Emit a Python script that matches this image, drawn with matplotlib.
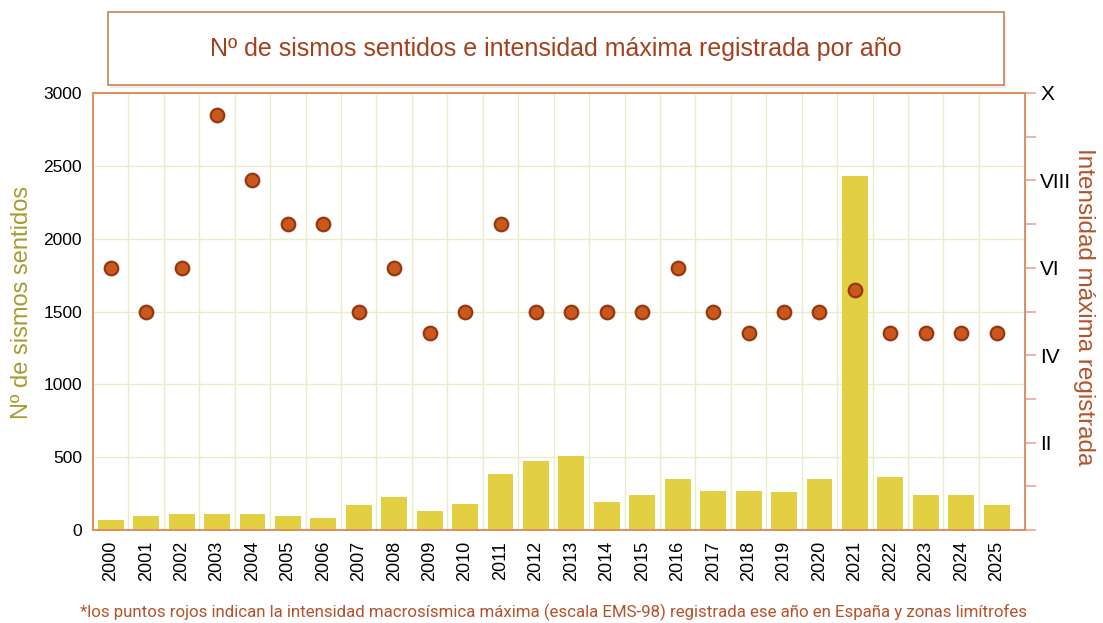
import matplotlib.pyplot as plt
from matplotlib.patches import Rectangle

# data
years = [str(y) for y in range(2000, 2026)]
sismos = [70, 98, 112, 112, 112, 98, 84, 170, 228, 130, 179, 382, 474, 509,
          193, 240, 349, 270, 270, 258, 349, 2430, 363, 242, 242, 172]
intensidad = [6, 5, 6, 9.5, 8, 7, 7, 5, 6, 4.5, 5, 7, 5, 5, 5, 5, 6, 5, 4.5,
              5, 5, 5.5, 4.5, 4.5, 4.5, 4.5]
roman = ['', '', 'II', '', 'IV', '', 'VI', '', 'VIII', '', 'X']

W, H = 1103, 623
fig = plt.figure(figsize=(W / 100, H / 100), dpi=100)
fig.patch.set_facecolor('white')

spine_c = '#de8f62'
grid_c = '#e8ecc9'

ax = fig.add_axes([93 / W, 1 - 530 / H, (1025 - 93) / W, (530 - 93) / H])
x = list(range(len(years)))
ax.bar(x, sismos, width=0.73, color='#e2d042', zorder=2)
ax.set_xlim(-0.5, 25.8)
ax.set_ylim(0, 3000)
ax.set_yticks(range(0, 3001, 500))
ax.set_xticks(x)
ax.set_xticklabels(years, rotation=90, fontsize=13, family='Liberation Sans')
ax.set_xticks([i + 0.5 for i in x[:-1]], minor=True)
ax.tick_params(axis='x', which='both', length=0, pad=8)
ax.tick_params(axis='y', length=0, labelsize=12.5, pad=8)
for lab in ax.get_yticklabels():
    lab.set_family('Liberation Sans')
ax.grid(True, axis='y', color=grid_c, lw=1, zorder=0)
ax.grid(True, axis='x', which='minor', color=grid_c, lw=1, zorder=0)
for s in ax.spines.values():
    s.set_color(spine_c)
    s.set_linewidth(1.3)
ax.set_ylabel('Nº de sismos sentidos', color='#a89b2e', fontsize=17,
              family='Liberation Sans', va='center')
ax.yaxis.set_label_coords((22 - 93) / 932, 0.52)

ax2 = ax.twinx()
ax2.scatter(x, intensidad, s=95, color='#c9581d', edgecolor='#96370f',
            linewidth=1.6, zorder=3)
ax2.set_ylim(0, 10)
ax2.set_yticks(range(0, 11))
ax2.set_yticklabels(roman, fontsize=15, family='Liberation Sans')
ax2.tick_params(axis='y', color='#eca3a3', length=8, width=1.2, pad=3)
for s in ax2.spines.values():
    s.set_color(spine_c)
    s.set_linewidth(1.3)
ax2.set_ylabel('Intensidad máxima registrada', color='#b4522b', fontsize=17.5,
               family='Liberation Sans', rotation=270, va='center')
ax2.yaxis.set_label_coords((1084 - 93) / 932, 0.51)

# title box with a soft shadow
fig.patches.append(Rectangle((110 / W, 1 - 88 / H), 896 / W, 73 / H,
                             transform=fig.transFigure, facecolor='#ececec',
                             edgecolor='none', zorder=0))
fig.patches.append(Rectangle((108 / W, 1 - 85 / H), 896 / W, 73 / H,
                             transform=fig.transFigure, facecolor='white',
                             edgecolor='#c9805d', lw=1.2, zorder=1))
fig.text(556 / W, 1 - 49 / H,
         'Nº de sismos sentidos e intensidad máxima registrada por año',
         ha='center', va='center', fontsize=18, color='#a3411d',
         family='Liberation Sans')

fig.text(553 / W, 1 - 612 / H,
         '*los puntos rojos indican la intensidad macrosísmica máxima '
         '(escala EMS-98) registrada ese año en España y zonas limítrofes',
         ha='center', va='center', fontsize=12.2, color='#b4522b',
         family='Roboto')

fig.savefig('out.png', dpi=100)
